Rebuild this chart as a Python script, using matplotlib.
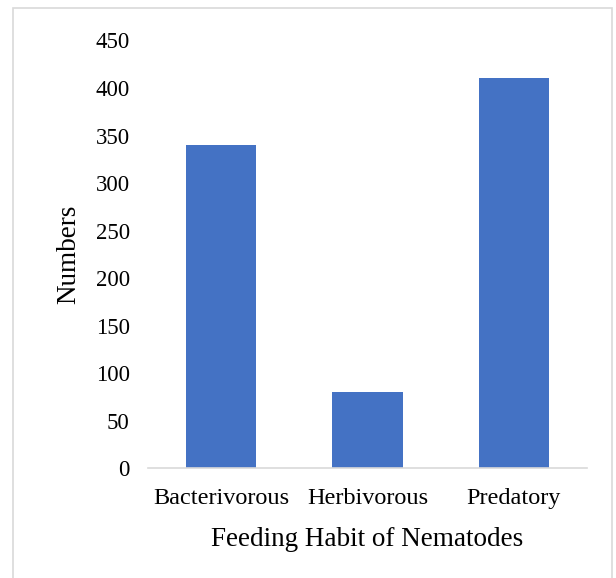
import matplotlib
matplotlib.use("Agg")
import matplotlib.pyplot as plt
from matplotlib.patches import Rectangle

categories = ["Bacterivorous", "Herbivorous", "Predatory"]
numbers = [340, 80, 411]
y_ticks = [0, 50, 100, 150, 200, 250, 300, 350, 400, 450]

plt.rcParams['font.family'] = ['Liberation Serif', 'DejaVu Serif']

fig = plt.figure(figsize=(6.16, 5.78), dpi=100)
ax = fig.add_axes([0.240, 0.190, 0.713, 0.740])

ax.bar(range(len(categories)), numbers, width=0.48, color="#4472C4")
ax.set_xlim(-0.5, len(categories) - 0.5)
ax.set_ylim(0, 450)
ax.set_yticks(y_ticks)
ax.set_xticks(range(len(categories)))
ax.set_xticklabels(categories)

for s in ["top", "right", "left"]:
    ax.spines[s].set_visible(False)
ax.spines["bottom"].set_color("#D9D9D9")
ax.spines["bottom"].set_linewidth(1.2)
ax.tick_params(axis="y", length=0, labelsize=16.5, pad=13)
ax.tick_params(axis="x", length=0, labelsize=17.5, pad=14)

ax.set_ylabel("Numbers", fontsize=19.5, labelpad=10)
ax.set_xlabel("Feeding Habit of Nematodes", fontsize=19.5, labelpad=13)

# outer chart border
fig.patches.append(Rectangle((13 / 616, -0.05), 599 / 616, 1 - 8 / 578 + 0.05,
                             transform=fig.transFigure, fill=False,
                             edgecolor="#D9D9D9", linewidth=1.2))

fig.savefig("out.png", dpi=100)
